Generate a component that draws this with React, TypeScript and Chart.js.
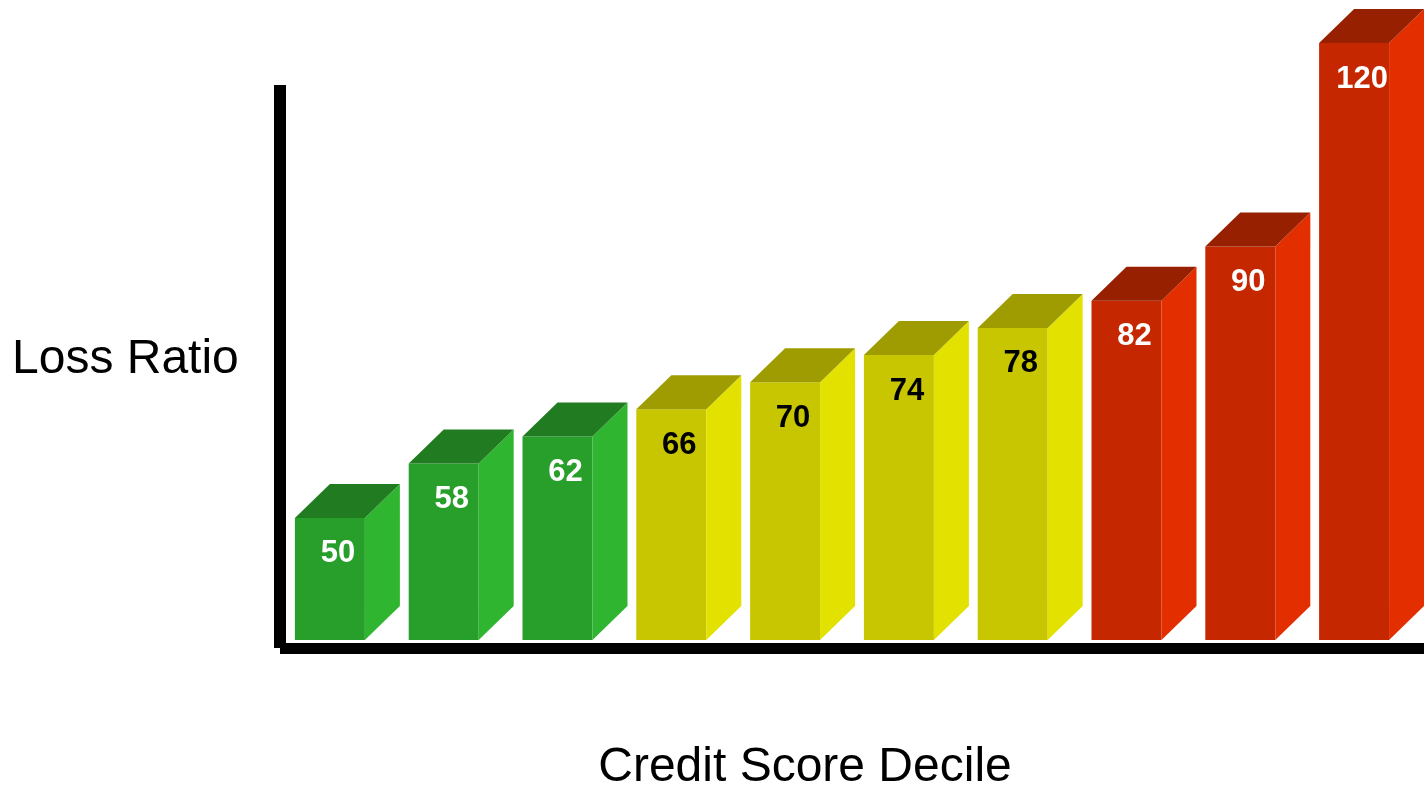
import React, { useEffect, useRef } from "react";
import { Chart, registerables } from "chart.js";

Chart.register(...registerables);

// ---- data ----
const deciles = ["1", "2", "3", "4", "5", "6", "7", "8", "9", "10"];
const lossRatios = [50, 58, 62, 66, 70, 74, 78, 82, 90, 120];
const riskBands = ["low", "low", "low", "mid", "mid", "mid", "mid", "high", "high", "high"];
const xAxisTitle = "Credit Score Decile";
const yAxisTitle = "Loss Ratio";

// ---- styles ----
const palette: Record<string, { front: string; side: string; top: string; text: string }> = {
  low: { front: "#289f2a", side: "#2fb52f", top: "#217c21", text: "#ffffff" },
  mid: { front: "#c8c600", side: "#e2e100", top: "#9e9c00", text: "#000000" },
  high: { front: "#c52700", side: "#e32e00", top: "#962000", text: "#ffffff" },
};
const FONT = '"Liberation Sans", Arial, Helvetica, sans-serif';
const DEPTH_X = 35;
const DEPTH_Y = 34;

const threeDPlugin = {
  id: "threeD",
  afterDatasetsDraw(chart: any) {
    const ctx = chart.ctx;
    const area = chart.chartArea;
    const meta = chart.getDatasetMeta(0);
    ctx.save();
    meta.data.forEach((bar: any, i: number) => {
      const props = bar.getProps(["x", "y", "base", "width"], true);
      const x = props.x;
      const y = props.y;
      const width = props.width;
      const base = Math.min(props.base, area.bottom);
      const left = x - width / 2;
      const right = x + width / 2;
      const pal = palette[riskBands[i]];
      // side face
      ctx.fillStyle = pal.side;
      ctx.beginPath();
      ctx.moveTo(right, y);
      ctx.lineTo(right + DEPTH_X, y - DEPTH_Y);
      ctx.lineTo(right + DEPTH_X, base - DEPTH_Y);
      ctx.lineTo(right, base);
      ctx.closePath();
      ctx.fill();
      // top face
      ctx.fillStyle = pal.top;
      ctx.beginPath();
      ctx.moveTo(left, y);
      ctx.lineTo(left + DEPTH_X, y - DEPTH_Y);
      ctx.lineTo(right + DEPTH_X, y - DEPTH_Y);
      ctx.lineTo(right, y);
      ctx.closePath();
      ctx.fill();
      // value label
      ctx.fillStyle = pal.text;
      ctx.font = `bold 31px ${FONT}`;
      ctx.textAlign = "center";
      ctx.textBaseline = "middle";
      ctx.fillText(String(lossRatios[i]), x + 8, y + 36);
    });
    ctx.restore();
  },
  afterDraw(chart: any) {
    const ctx = chart.ctx;
    const area = chart.chartArea;
    ctx.save();
    ctx.fillStyle = "#000000";
    // y axis line
    ctx.fillRect(area.left + 1, 85, 12, area.bottom + 8 - 85);
    // x axis line
    ctx.fillRect(area.left + 7, area.bottom + 3, chart.width - (area.left + 7), 11);
    // titles
    ctx.font = `48px ${FONT}`;
    ctx.textBaseline = "middle";
    ctx.textAlign = "left";
    ctx.fillText(yAxisTitle, 12, 360);
    ctx.textAlign = "center";
    ctx.fillText(xAxisTitle, 805, 768);
    ctx.restore();
  },
};

export default function App() {
  const canvasRef = useRef<HTMLCanvasElement | null>(null);

  useEffect(() => {
    const canvas = canvasRef.current;
    if (!canvas) return;
    const chart = new Chart(canvas, {
      type: "bar",
      data: {
        labels: deciles,
        datasets: [
          {
            data: lossRatios,
            backgroundColor: riskBands.map((b) => palette[b].front),
            borderWidth: 0,
            barPercentage: 0.615,
            categoryPercentage: 1,
          },
        ],
      },
      options: {
        responsive: false,
        animation: false,
        layout: { padding: { left: 273, right: 13, top: 43, bottom: 149 } },
        plugins: { legend: { display: false }, tooltip: { enabled: false }, title: { display: false } },
        scales: {
          x: { display: false, offset: true },
          y: { display: false, min: 32, max: 120 },
        },
      },
      plugins: [threeDPlugin],
    });
    return () => chart.destroy();
  }, []);

  return (
    <div style={{ position: "absolute", left: 0, top: 0, width: 1424, height: 789, background: "#ffffff" }}>
      <canvas ref={canvasRef} width={1424} height={789} style={{ display: "block" }} />
    </div>
  );
}
